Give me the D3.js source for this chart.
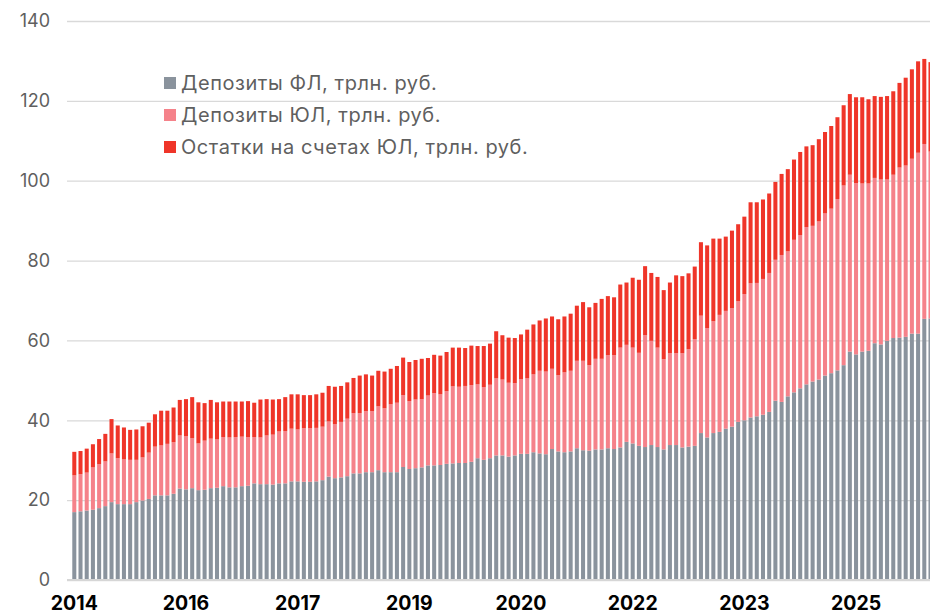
<!DOCTYPE html>
<html><head><meta charset="utf-8">
<script src="https://cdn.jsdelivr.net/npm/d3@7"></script>
<style>
body{margin:0;background:#fff}
svg{display:block;font-family:Inter,"DejaVu Sans",sans-serif}
</style>
</head><body>
<svg id="chart" width="930" height="615"></svg>
<script>
// Monthly observations, Jul 2014 .. Jan 2026
const categories = d3.timeMonth.range(new Date(2014, 6, 1), new Date(2026, 1, 1)).map(d3.timeFormat("%Y-%m"));

const depositsFL = [
17.0,17.2,17.4,17.6,18.0,18.5,19.5,19.0,19.0,19.0,19.5,19.9,20.3,21.2,21.2,21.2,21.6,22.9,22.7,23.0,
22.5,22.6,23.0,23.1,23.5,23.2,23.2,23.5,23.6,24.2,24.0,24.0,23.9,24.2,24.2,24.7,24.7,24.6,24.6,24.7,
25.0,25.9,25.5,25.7,26.0,26.7,26.7,27.0,27.0,27.5,27.0,27.0,27.0,28.3,27.8,28.0,28.2,28.7,28.7,28.8,
29.1,29.2,29.3,29.3,29.6,30.5,30.1,30.5,31.2,31.2,30.9,31.2,31.6,31.6,32.0,31.7,31.5,32.8,32.2,32.0,
32.2,33.0,32.5,32.4,32.7,32.7,33.0,32.8,33.2,34.6,34.2,33.6,33.3,33.8,33.3,32.7,33.8,33.8,33.2,33.4,
33.6,36.8,35.7,36.8,37.1,37.9,38.4,39.6,40.0,40.7,41.0,41.4,42.1,44.9,44.6,46.0,47.0,48.0,49.0,49.7,
50.2,51.2,51.8,52.5,53.8,57.2,56.5,57.2,57.4,59.3,59.0,59.9,60.6,60.7,60.9,61.7,61.7,65.4,65.5];

const depositsUL = [
9.2,9.3,9.5,10.6,11.0,11.2,12.2,11.5,11.2,11.1,10.6,10.8,11.6,12.2,12.5,12.9,12.9,13.3,13.3,12.5,
11.7,12.3,12.4,12.1,12.3,12.5,12.6,12.4,12.2,11.6,11.7,12.2,12.5,13.0,13.1,13.2,13.0,13.4,13.4,13.4,
13.4,13.8,13.5,13.9,14.4,15.1,15.1,15.3,15.3,16.0,16.0,17.0,17.4,18.0,17.0,17.2,17.1,17.5,18.1,17.7,
18.2,19.3,19.1,19.3,19.2,18.5,18.2,18.4,19.3,19.0,18.5,18.1,18.7,18.9,19.5,20.7,20.7,20.1,19.1,20.0,
20.2,21.9,22.4,21.4,22.7,22.7,23.3,23.5,25.0,24.3,24.0,23.3,28.0,26.1,24.9,22.6,23.0,23.0,23.6,24.4,
26.7,29.4,27.4,28.0,29.3,29.5,29.7,30.2,31.6,33.6,33.4,34.0,34.8,35.3,36.8,36.3,38.2,38.4,39.4,39.0,
39.6,40.6,41.2,42.9,45.0,44.3,42.9,42.1,41.9,41.4,41.3,40.4,40.9,42.6,42.9,43.8,45.3,43.8,41.8];

const balancesUL = [
5.9,5.8,6.0,5.8,6.3,6.9,8.6,8.2,8.0,7.5,7.6,7.8,7.5,8.1,8.7,8.3,8.7,8.9,9.3,10.3,
10.3,9.4,9.7,9.3,8.9,9.0,8.9,8.8,9.0,8.6,9.5,9.1,8.8,8.1,8.5,8.6,8.8,8.3,8.3,8.4,
8.5,8.9,9.4,9.0,9.1,8.8,9.4,9.2,8.9,8.9,9.2,8.9,9.2,9.4,9.8,9.9,10.1,9.4,9.6,9.7,
9.8,9.7,9.8,9.5,9.9,9.6,10.3,10.3,11.8,11.1,11.3,11.3,11.2,12.2,12.5,12.6,13.3,13.1,14.0,14.0,
14.3,13.8,14.7,14.5,14.0,15.0,14.8,14.5,15.8,15.6,17.5,18.3,17.3,17.0,17.7,17.3,17.7,19.5,19.3,19.0,
18.2,18.4,20.7,20.7,19.1,18.6,19.4,19.3,19.4,20.3,20.2,19.9,19.9,19.5,20.3,20.6,20.1,20.8,20.2,20.2,
20.6,20.4,20.7,20.5,20.1,20.2,21.5,21.6,21.1,20.5,20.7,20.9,20.9,21.2,22.0,22.4,22.9,21.3,22.4];

const seriesKeys = ["fl", "ul", "ost"];
const seriesNames = ["Депозиты ФЛ, трлн. руб.", "Депозиты ЮЛ, трлн. руб.", "Остатки на счетах ЮЛ, трлн. руб."];
const seriesColors = ["#8A939D", "#F5828A", "#EF3529"];
const yTicks = [0, 20, 40, 60, 80, 100, 120, 140];
const xTickLabels = ["2014", "2016", "2017", "2019", "2020", "2022", "2023", "2025"];
const xTickStep = 18;

const rows = categories.map((c, i) => ({cat: c, fl: depositsFL[i], ul: depositsUL[i], ost: balancesUL[i]}));
const stacked = d3.stack().keys(seriesKeys)(rows);

const svg = d3.select("#chart");
const W = 930;

const x = d3.scaleBand().domain(categories).range([71.2, 933.6]).paddingInner(0.35).paddingOuter(0.175);
const y = d3.scaleLinear().domain([0, 140]).range([580, 21]);

// y axis + gridlines
const gridLeft = 67;
const yAxis = svg.append("g").attr("transform", `translate(${gridLeft},0)`)
  .call(d3.axisLeft(y).tickValues(yTicks).tickSize(-(W - gridLeft)).tickPadding(17).tickFormat(d3.format("d")));
yAxis.select(".domain").remove();
yAxis.selectAll(".tick line").attr("stroke", "#D9D9D9").attr("stroke-width", 1.3);
yAxis.selectAll(".tick text").attr("fill", "#5F5F5F").style("font-size", "18px").style("font-family", "Inter, sans-serif");

// bars
svg.append("g").selectAll("g").data(stacked).join("g")
  .attr("fill", (d, i) => seriesColors[i])
  .selectAll("rect").data(d => d).join("rect")
  .attr("x", d => x(d.data.cat))
  .attr("width", x.bandwidth())
  .attr("y", d => y(d[1]))
  .attr("height", d => y(d[0]) - y(d[1]));

// baseline above bars
svg.append("line").attr("x1", gridLeft).attr("x2", W).attr("y1", y(0)).attr("y2", y(0))
  .attr("stroke", "#D6D6D6").attr("stroke-width", 2.2);

// x axis
const xAxis = svg.append("g").attr("transform", `translate(0,${y(0)})`)
  .call(d3.axisBottom(x)
    .tickValues(categories.filter((d, i) => i % xTickStep === 0))
    .tickFormat((d, i) => xTickLabels[i])
    .tickSize(0));
xAxis.select(".domain").remove();
xAxis.selectAll(".tick text").attr("dy", 0).attr("y", 30)
  .attr("fill", "#000").style("font-size", "19.5px").style("font-weight", "700").style("font-family", "Inter, sans-serif");

// legend
const legend = svg.append("g");
const lg = legend.selectAll("g").data(seriesNames).join("g")
  .attr("transform", (d, i) => `translate(164,${83 + i * 32})`);
lg.append("rect").attr("x", 0).attr("y", -6).attr("width", 12).attr("height", 12)
  .attr("fill", (d, i) => seriesColors[i]);
lg.append("text").attr("x", 17).attr("y", 0).attr("dy", "0.35em")
  .attr("fill", "#5F5F5F").style("font-size", "20px").style("letter-spacing", "0.55px").text(d => d);
</script>
</body></html>
